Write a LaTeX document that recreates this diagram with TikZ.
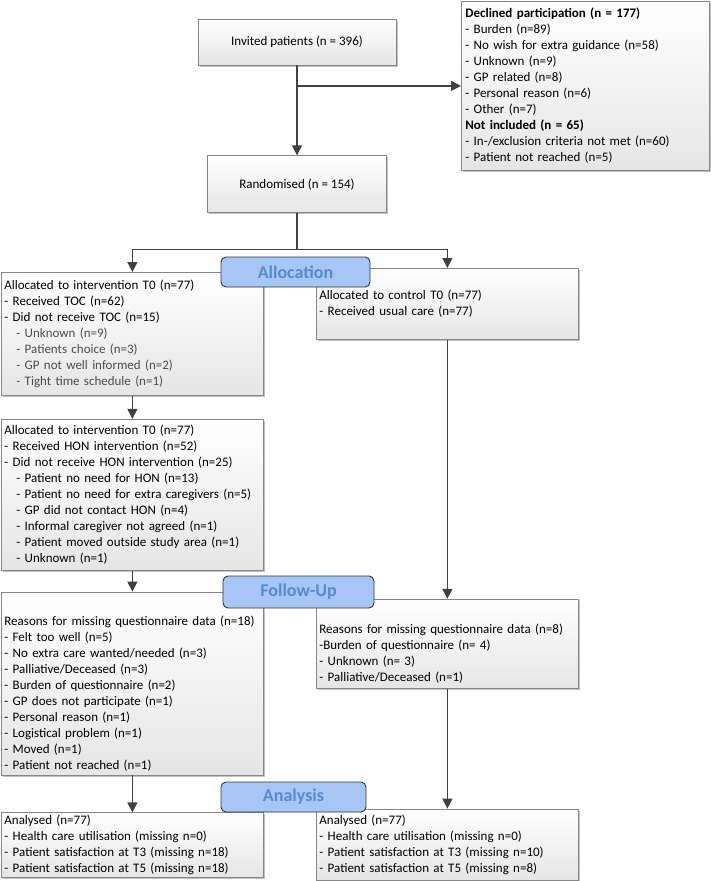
\documentclass[tikz,border=0pt]{standalone}
\usepackage{fontspec}
\setmainfont{Carlito}
\usepackage{xcolor}
\usepackage{tikz}
\usetikzlibrary{positioning,shadows,arrows.meta}
\definecolor{linegray}{RGB}{64,64,64}
\definecolor{boxline}{RGB}{135,135,135}
\definecolor{stagefill}{RGB}{166,198,245}
\definecolor{stagetext}{RGB}{88,138,204}
\newcommand{\topgap}{\rule{0pt}{29pt}}
\newcommand{\subline}[1]{\hspace*{12pt}#1}
\newcommand{\greyline}[1]{{\color{black!70}\hspace*{12pt}#1}}

\begin{document}
\begin{tikzpicture}
    \tikzstyle{box} = [draw=boxline, rectangle, line width=0.8pt, top color=white, bottom color=black!10, drop shadow={shadow xshift=1.5pt, shadow yshift=-1.5pt, fill=black!35, opacity=0.7}, inner xsep=3pt, inner ysep=2pt, font=\fontsize{13}{16}\selectfont]
    \tikzstyle{listbox} = [box, text width=256pt, align=left]
    \tikzstyle{stage} = [draw=black!80, line width=0.9pt, rounded corners=5pt, fill=stagefill, text=stagetext, font=\fontsize{18}{20}\selectfont\bfseries, minimum height=30pt, inner sep=0pt]
    \tikzstyle{link} = [draw=linegray, line width=1.3pt, -{Triangle[width=10pt,length=10pt]}]

    \useasboundingbox (0,0) rectangle (711pt,-881pt);

    % enrolment
    \node [box, minimum width=198pt, minimum height=46pt] (inv) at (297pt,-42pt) {Invited patients (n = 396)};
    \node [box, minimum width=179pt, minimum height=57pt, below=90pt of inv] (rand) {Randomised (n = 154)};
    \node [box, text width=240pt, align=left, inner xsep=4pt, minimum height=169pt, anchor=north west] (decl) at (461pt,-1pt) {\textbf{Declined participation (n = 177)}\\- Burden (n=89)\\- No wish for extra guidance (n=58)\\- Unknown (n=9)\\- GP related (n=8)\\- Personal reason (n=6)\\- Other (n=7)\\\textbf{Not included (n = 65)}\\- In-/exclusion criteria not met (n=60)\\- Patient not reached (n=5)};

    % intervention arm
    \node [listbox, minimum height=123pt, anchor=north west] (int1) at (1pt,-272pt) {Allocated to intervention T0 (n=77)\\- Received TOC (n=62)\\- Did not receive TOC (n=15)\\\greyline{- Unknown (n=9)}\\\greyline{- Patients choice (n=3)}\\\greyline{- GP not well informed (n=2)}\\\greyline{- Tight time schedule (n=1)}};
    \node [listbox, minimum height=151pt, below=23pt of int1] (int2) {Allocated to intervention T0 (n=77)\\- Received HON intervention (n=52)\\- Did not receive HON intervention (n=25)\\\subline{- Patient no need for HON (n=13)}\\\subline{- Patient no need for extra caregivers (n=5)}\\\subline{- GP did not contact HON (n=4)}\\\subline{- Informal caregiver not agreed (n=1)}\\\subline{- Patient moved outside study area (n=1)}\\\subline{- Unknown (n=1)}};
    \node [listbox, minimum height=183pt, below=21pt of int2] (int3) {\topgap Reasons for missing questionnaire data (n=18)\\- Felt too well (n=5)\\- No extra care wanted/needed (n=3)\\- Palliative/Deceased (n=3)\\- Burden of questionnaire (n=2)\\- GP does not participate (n=1)\\- Personal reason (n=1)\\- Logistical problem (n=1)\\- Moved (n=1)\\- Patient not reached (n=1)};
    \node [listbox, minimum height=65pt, below=37pt of int3] (int4) {Analysed (n=77)\\- Health care utilisation (missing n=0)\\- Patient satisfaction at T3 (missing n=18)\\- Patient satisfaction at T5 (missing n=18)};

    % control arm
    \node [listbox, minimum height=71pt, anchor=north west] (ctrl1) at (316pt,-268pt) {Allocated to control T0 (n=77)\\- Received usual care (n=77)};
    \node [listbox, minimum height=89pt, below=259pt of ctrl1] (ctrl2) {\topgap Reasons for missing questionnaire data (n=8)\\-Burden of questionnaire (n= 4)\\- Unknown (n= 3)\\- Palliative/Deceased (n=1)};
    \node [listbox, minimum height=71pt, below=120pt of ctrl2] (ctrl3) {Analysed (n=77)\\- Health care utilisation (missing n=0)\\- Patient satisfaction at T3 (missing n=10)\\- Patient satisfaction at T5 (missing n=8)};

    % connectors
    \coordinate (split1) at (inv.south |- decl.west);
    \coordinate [below=36pt of rand.south] (split2);
    \draw [link] (inv) -- (rand);
    \draw [link] (split1) -- (decl.west);
    \draw [draw=linegray, line width=1.3pt] (rand) -- (split2);
    \draw [link] (split2) -| (int1.north);
    \draw [link] (split2) -| (ctrl1.north);
    \draw [link] (int1) -- (int2);
    \draw [link] (int2) -- (int3);
    \draw [link] (int3) -- (int4);
    \draw [link] (ctrl1) -- (ctrl2);
    \draw [link] (ctrl2) -- (ctrl3);

    % stage labels
    \node [stage, minimum width=149pt] (alloc) at (295.5pt,-272pt) {Allocation};
    \node [stage, minimum width=151pt, minimum height=32pt] (follow) at (298.5pt,-592pt) {Follow-Up};
    \node [stage, minimum width=145pt] (analysis) at (293.5pt,-797pt) {Analysis};
\end{tikzpicture}
\end{document}
